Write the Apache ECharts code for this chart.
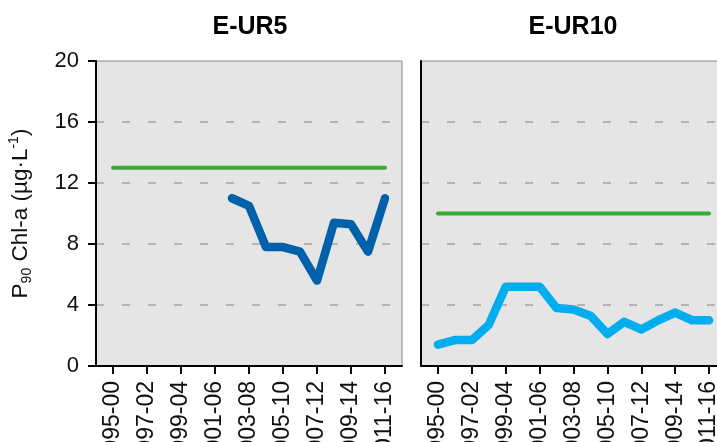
<!DOCTYPE html>
<html>
<head>
<meta charset="utf-8">
<script src="https://cdn.jsdelivr.net/npm/echarts@6/dist/echarts.min.js"></script>
<style>
  html, body { margin: 0; padding: 0; background: #fff; }
  #chart { width: 717px; height: 442px; }
</style>
</head>
<body>
<div id="chart"></div>
<script>
// Six-year moving windows
const categories = [
  '1995-00', '1996-01', '1997-02', '1998-03', '1999-04', '2000-05',
  '2001-06', '2002-07', '2003-08', '2004-09', '2005-10', '2006-11',
  '2007-12', '2008-13', '2009-14', '2010-15', '2011-16'
];

const panelTitles = ['E-UR5', 'E-UR10'];

// P90 chlorophyll-a per window
const eur5Values = [null, null, null, null, null, null, null,
  11.0, 10.5, 7.8, 7.8, 7.5, 5.6, 9.4, 9.3, 7.5, 11.0];
const eur10Values = [1.4, 1.7, 1.7, 2.7, 5.2, 5.2, 5.2, 3.8, 3.7, 3.3,
  2.1, 2.9, 2.4, 3.0, 3.5, 3.0, 3.0];

// Reference thresholds
const eur5Threshold = 13;
const eur10Threshold = 10;

const yTicks = [0, 4, 8, 12, 16, 20];

// blank slots at both ends keep one step of space around the data
const axisCats = [''].concat(categories, ['']);
const pad = arr => [null].concat(arr, [null]);
const flat = v => [null].concat(categories.map(() => v), [null]);
const everyOther = i => i % 2 === 1;

const fontFamily = '"Liberation Sans", Arial, sans-serif';

function xAxisFor(gridIndex) {
  return {
    type: 'category', gridIndex, data: axisCats, boundaryGap: false,
    axisLine: { show: true, onZero: false, lineStyle: { color: '#000', width: 2 } },
    axisTick: { show: true, length: 8, interval: everyOther, lineStyle: { color: '#000', width: 2 } },
    axisLabel: { interval: everyOther, rotate: 90, margin: 15, fontSize: 23, color: '#111', fontFamily },
    splitLine: { show: false }
  };
}

function yAxisFor(gridIndex, withLabels) {
  const axis = {
    type: 'value', gridIndex, min: yTicks[0], max: yTicks[yTicks.length - 1], interval: 4,
    axisLine: { show: true, lineStyle: { color: '#000', width: 2 } },
    axisTick: { show: withLabels, length: 8, lineStyle: { color: '#000', width: 2 } },
    axisLabel: { show: withLabels, margin: 17, fontSize: 22, color: '#111', fontFamily },
    splitLine: {
      show: true, showMinLine: false, showMaxLine: false,
      lineStyle: { color: '#b4b4b4', width: 2, type: [8, 18] }
    }
  };
  if (withLabels) {
    axis.name = '{m|P}{sub|90}{m| Chl-a (µg·L}{sup|-1}{m|)}';
    axis.nameLocation = 'middle';
    axis.nameRotate = 90;
    axis.nameGap = 62;
    axis.nameTextStyle = {
      fontFamily, color: '#111',
      rich: {
        m: { fontSize: 22.5, lineHeight: 27, fontFamily, color: '#111' },
        sub: { fontSize: 14, lineHeight: 14, verticalAlign: 'bottom', fontFamily, color: '#111' },
        sup: { fontSize: 14, lineHeight: 14, verticalAlign: 'top', fontFamily, color: '#111' }
      }
    };
  }
  return axis;
}

function lineSeries(idx, data, color, width) {
  return {
    type: 'line', xAxisIndex: idx, yAxisIndex: idx, data,
    showSymbol: false, symbol: 'none', connectNulls: false,
    lineStyle: { color, width, cap: 'round', join: 'round' },
    emphasis: { disabled: true }, animation: false
  };
}

const gridBase = {
  top: 61, height: 305, show: true, containLabel: false, outerBoundsMode: 'none',
  backgroundColor: '#e5e5e5', borderColor: '#8c8c8c', borderWidth: 1
};

const chart = echarts.init(document.getElementById('chart'), null, { renderer: 'canvas' });
chart.setOption({
  animation: false,
  backgroundColor: '#fff',
  title: [
    { text: panelTitles[0], left: 250, top: 15, textAlign: 'center', padding: 0,
      textStyle: { fontSize: 25, fontWeight: 'bold', color: '#000', fontFamily } },
    { text: panelTitles[1], left: 573, top: 15, textAlign: 'center', padding: 0,
      textStyle: { fontSize: 25, fontWeight: 'bold', color: '#000', fontFamily } }
  ],
  grid: [
    Object.assign({ left: 96, width: 306 }, gridBase),
    Object.assign({ left: 421, width: 305 }, gridBase)
  ],
  xAxis: [xAxisFor(0), xAxisFor(1)],
  yAxis: [yAxisFor(0, true), yAxisFor(1, false)],
  series: [
    lineSeries(0, flat(eur5Threshold), '#3aaa35', 4),
    lineSeries(0, pad(eur5Values), '#0061ab', 8.5),
    lineSeries(1, flat(eur10Threshold), '#3aaa35', 4),
    lineSeries(1, pad(eur10Values), '#00aeef', 8.5)
  ]
});
</script>
</body>
</html>
